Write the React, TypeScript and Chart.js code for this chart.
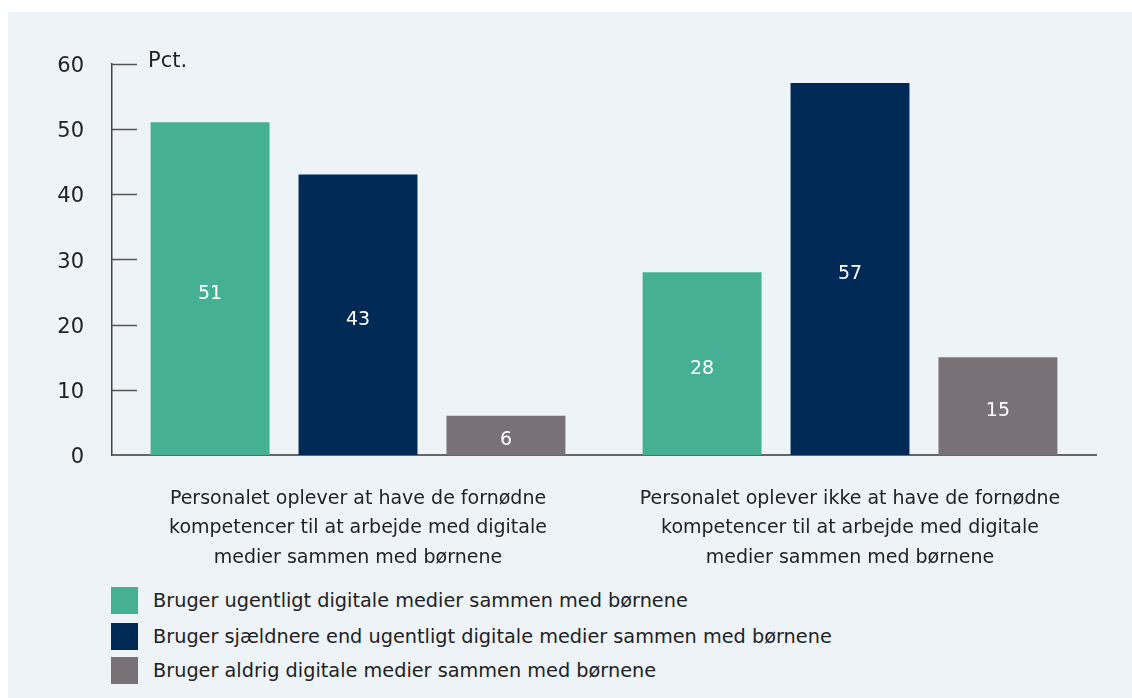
import React, { useEffect, useRef } from "react";
import { Chart, registerables } from "chart.js";

Chart.register(...registerables);

const categories: string[][] = [
  ["Personalet oplever at have de fornødne", "kompetencer til at arbejde med digitale", "medier sammen med børnene"],
  ["Personalet oplever ikke at have de fornødne", "kompetencer til at arbejde med digitale", "medier sammen med børnene"],
];
const seriesNames = [
  "Bruger ugentligt digitale medier sammen med børnene",
  "Bruger sjældnere end ugentligt digitale medier sammen med børnene",
  "Bruger aldrig digitale medier sammen med børnene",
];
const weeklyValues = [51, 28];
const lessOftenValues = [43, 57];
const neverValues = [6, 15];
const seriesColors = ["#45b094", "#012b56", "#787276"];
const yTicks = [0, 10, 20, 30, 40, 50, 60];
const unitLabel = "Pct.";

const FONT = "'DejaVu Sans', sans-serif";
const TEXT = "#222222";

export default function App() {
  const ref = useRef<HTMLCanvasElement | null>(null);

  useEffect(() => {
    if (!ref.current) return;
    const decor = {
      id: "decor",
      afterDatasetsDraw(chart: any) {
        const ctx = chart.ctx;
        const y = chart.scales.y;
        const area = chart.chartArea;
        ctx.save();
        // inward tick marks
        ctx.strokeStyle = "#555555";
        ctx.lineWidth = 1.5;
        yTicks.forEach((v) => {
          if (v === 0) return;
          const py = Math.round(y.getPixelForValue(v)) + 0.5;
          ctx.beginPath();
          ctx.moveTo(area.left, py);
          ctx.lineTo(area.left + 25, py);
          ctx.stroke();
        });
        // unit label
        ctx.fillStyle = TEXT;
        ctx.font = `21px ${FONT}`;
        ctx.textAlign = "left";
        ctx.textBaseline = "middle";
        ctx.fillText(unitLabel, area.left + 36, y.getPixelForValue(60) - 2);
        // value labels
        ctx.fillStyle = "#ffffff";
        ctx.font = `19px ${FONT}`;
        ctx.textAlign = "center";
        chart.data.datasets.forEach((ds: any, i: number) => {
          const meta = chart.getDatasetMeta(i);
          meta.data.forEach((bar: any, j: number) => {
            const cy = (bar.y + bar.base) / 2 + 5;
            ctx.fillText(String(ds.data[j]), bar.x, cy);
          });
        });
        ctx.restore();
      },
    };

    const chart = new Chart(ref.current, {
      type: "bar",
      data: {
        labels: categories,
        datasets: [
          { label: seriesNames[0], data: weeklyValues, backgroundColor: seriesColors[0] },
          { label: seriesNames[1], data: lessOftenValues, backgroundColor: seriesColors[1] },
          { label: seriesNames[2], data: neverValues, backgroundColor: seriesColors[2] },
        ],
      },
      options: {
        animation: false,
        responsive: false,
        devicePixelRatio: 1,
        categoryPercentage: 0.902,
        barPercentage: 0.804,
        layout: { padding: { top: 51.5, right: 36, left: 0, bottom: 0 } },
        plugins: { legend: { display: false }, tooltip: { enabled: false } },
        scales: {
          x: {
            grid: { display: false, drawTicks: false },
            border: { display: true, color: "#666666", width: 2 },
            ticks: {
              color: TEXT,
              font: { family: FONT, size: 19, lineHeight: "29.5px" } as any,
              padding: 29,
              maxRotation: 0,
              autoSkip: false,
            },
            afterFit: (s: any) => {
              s.height = 132;
            },
          },
          y: {
            min: 0,
            max: 60,
            grid: { display: false, drawTicks: false },
            border: { display: true, color: "#444444", width: 1.5 },
            ticks: {
              stepSize: 10,
              color: TEXT,
              font: { family: FONT, size: 21 },
              padding: 28,
              labelOffset: 3,
            },
            afterFit: (s: any) => {
              s.width = 104;
            },
          },
        },
      },
      plugins: [decor],
    } as any);
    return () => chart.destroy();
  }, []);

  return (
    <div
      style={{
        position: "absolute",
        left: 8,
        top: 12,
        width: 1124,
        height: 686,
        background: "#eef3f8",
        fontFamily: FONT,
      }}
    >
      <canvas
        ref={ref}
        width={1124}
        height={575}
        style={{ position: "absolute", left: 0, top: 0, width: 1124, height: 575 }}
      />
      {seriesNames.map((name, i) => (
        <div
          key={name}
          style={{
            position: "absolute",
            left: 103,
            top: [575, 611, 645][i],
            height: 27,
            display: "flex",
            alignItems: "center",
            whiteSpace: "nowrap",
          }}
        >
          <span style={{ width: 27, height: 27, background: seriesColors[i], display: "inline-block" }} />
          <span style={{ marginLeft: 15, fontSize: 19.3, color: TEXT, lineHeight: "27px" }}>{name}</span>
        </div>
      ))}
    </div>
  );
}
